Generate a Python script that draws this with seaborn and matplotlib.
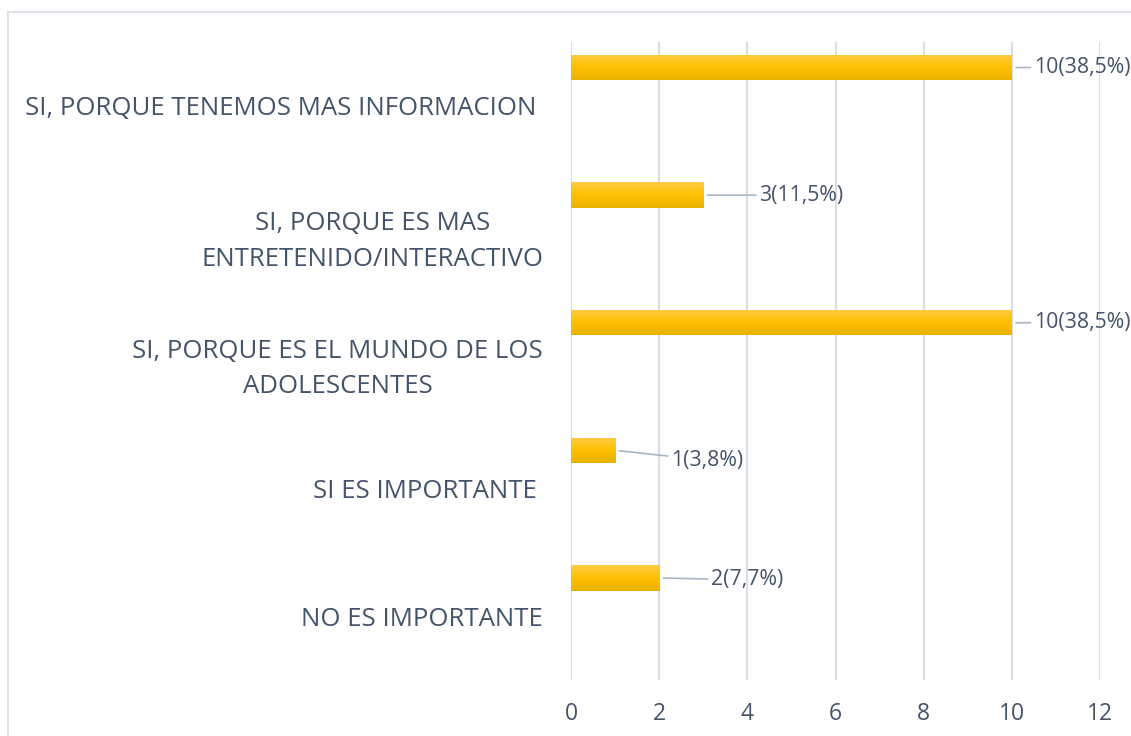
import numpy as np
import pandas as pd
import matplotlib
matplotlib.use("Agg")
import matplotlib.pyplot as plt
from matplotlib import patches
import seaborn as sns

categories = [
    "SI, PORQUE TENEMOS MAS INFORMACION ",
    "SI, PORQUE ES MAS\nENTRETENIDO/INTERACTIVO",
    "SI, PORQUE ES EL MUNDO DE LOS\nADOLESCENTES",
    "SI ES IMPORTANTE ",
    "NO ES IMPORTANTE",
]
counts = [10, 3, 10, 1, 2]
value_labels = ["10(38,5%)", "3(11,5%)", "10(38,5%)", "1(3,8%)", "2(7,7%)"]
x_ticks = [0, 2, 4, 6, 8, 10, 12]

# label offsets in pixels (dx, dy) from bar end, like the excel leader lines
label_offsets = [(22, 0), (56, 0), (22, 0), (56, -10), (52, -2)]

text_col = "#44546A"
grid_col = "#D9DEE6"
line_col = "#A9B6C6"

sns.set_theme(style="white")
plt.rcParams["font.family"] = ["Open Sans", "DejaVu Sans"]

df = pd.DataFrame({"cat": categories, "n": counts})

fig = plt.figure(figsize=(11.31, 7.36), dpi=100)
ax = fig.add_axes([571 / 1131, 1 - 680 / 736, (1100 - 571) / 1131, (680 - 42) / 736])

sns.barplot(data=df, y="cat", x="n", orient="h", color="#FFC000", width=0.2, ax=ax)

# excel draws the single series in the upper part of each slot
grad = np.linspace(0, 1, 64).reshape(-1, 1)
cmap = matplotlib.colors.LinearSegmentedColormap.from_list(
    "gold", ["#FFCB45", "#FFC000", "#E8B200"])
for p in ax.patches:
    p.set_y(p.get_y() - 0.3)
    x0, y0 = p.get_x(), p.get_y()
    w, h = p.get_width(), p.get_height()
    p.set_edgecolor("none")
    im = ax.imshow(grad, cmap=cmap, aspect="auto", extent=(x0, x0 + w, y0 + h, y0),
                   origin="upper", zorder=3)
    im.set_clip_path(p)

ax.set_xlim(0, 12)
ax.set_ylim(4.5, -0.5)
ax.set_xticks(x_ticks)
ax.set_xlabel("")
ax.set_ylabel("")
ax.grid(axis="x", color=grid_col, linewidth=1.5)
ax.set_axisbelow(True)
for s in ax.spines.values():
    s.set_visible(False)

ax.tick_params(axis="x", length=0, pad=16, labelsize=16.5, labelcolor=text_col)
ax.tick_params(axis="y", length=0, pad=20, labelsize=18.5, labelcolor=text_col)
for t in ax.get_yticklabels():
    t.set_multialignment("center")
    t.set_linespacing(1.55)

for i, p in enumerate(ax.patches):
    xe = p.get_x() + p.get_width()
    yc = p.get_y() + p.get_height() / 2
    dx, dy = label_offsets[i]
    ax.annotate(value_labels[i], xy=(xe, yc), xycoords="data",
                xytext=(dx * 0.72, dy * 0.72), textcoords="offset points",
                ha="left", va="center", fontsize=15.3, color=text_col,
                arrowprops=dict(arrowstyle="-", color=line_col, lw=1.2,
                                shrinkA=0, shrinkB=3),
                annotation_clip=False)

fig.patches.append(patches.Rectangle((8 / 1131, -0.1), 1.2, 1.1 - 12 / 736 + 0.0,
                                     transform=fig.transFigure, fill=False,
                                     edgecolor="#DDE2E8", linewidth=1.5))

fig.savefig("out.png", dpi=100)
